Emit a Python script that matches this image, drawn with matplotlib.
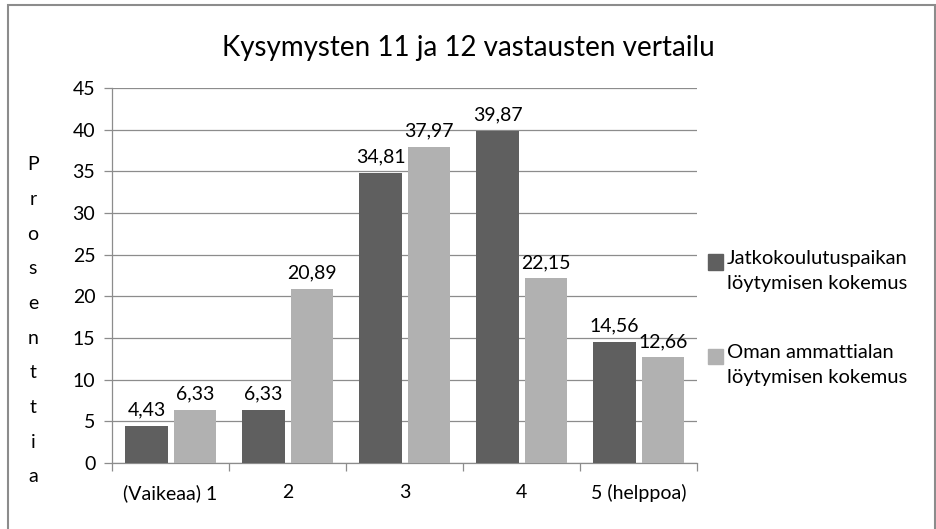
import matplotlib.pyplot as plt
import matplotlib.patches as mpatches
import numpy as np

# Chart values
categories = ['(Vaikeaa) 1', '2', '3', '4', '5 (helppoa)']
jatko = [4.43, 6.33, 34.81, 39.87, 14.56]
oma = [6.33, 20.89, 37.97, 22.15, 12.66]
series_names = ['Jatkokoulutuspaikan\nlöytymisen kokemus',
                'Oman ammattialan\nlöytymisen kokemus']
ylabel = 'Prosenttia'

plt.rcParams['font.family'] = ['Lato', 'DejaVu Sans']

dark = '#5f5f5f'
light = '#b1b1b1'
W, H = 936, 529

fig = plt.figure(figsize=(9.36, 5.29), dpi=100)
ax = fig.add_axes([0.1197, 0.1248, 0.625, 0.7088])

x = np.arange(len(categories))
w = 0.365
b1 = ax.bar(x - 0.205, jatko, w, color=dark, zorder=3)
b2 = ax.bar(x + 0.21, oma, w, color=light, zorder=3)

for bars, vals in [(b1, jatko), (b2, oma)]:
    for r, v in zip(bars, vals):
        ax.text(r.get_x() + r.get_width() / 2, v + 0.9, f'{v:.2f}'.replace('.', ','),
                ha='center', va='bottom', fontsize=14, color='black')

ax.set_xlim(-0.5, len(categories) - 0.5)
ax.set_ylim(0, 45)
ax.set_yticks(range(0, 46, 5))
ax.yaxis.grid(True, color='#8c8c8c', linewidth=0.9, zorder=0)
ax.set_xticks(x)
ax.set_xticklabels(categories, fontsize=14)
ax.set_xticks(np.arange(-0.5, len(categories), 1), minor=True)
ax.tick_params(axis='x', which='major', length=0, pad=15)
ax.tick_params(axis='x', which='minor', length=6, color='#8c8c8c', width=0.9)
ax.tick_params(axis='y', labelsize=14, length=6, color='#8c8c8c', width=0.9, pad=6)

for s in ['top', 'right']:
    ax.spines[s].set_visible(False)
for s in ['left', 'bottom']:
    ax.spines[s].set_color('#8c8c8c')
    ax.spines[s].set_linewidth(0.9)

fig.text(0.5, 0.91, 'Kysymysten 11 ja 12 vastausten vertailu', ha='center',
         va='center', fontsize=20)

# vertical stacked y label
ys = np.linspace(1 - 165 / H, 1 - 477 / H, len(ylabel))
for ch, yy in zip(ylabel, ys):
    fig.text(33 / W, yy, ch, ha='center', va='center', fontsize=14)

# legend drawn by hand: square sits next to the first line of each label
legend_rows = [262, 356]
for name, col, yrow in zip(series_names, [dark, light], legend_rows):
    fig.patches.append(mpatches.Rectangle((708 / W, 1 - (yrow + 7.5) / H), 15 / W, 15 / H,
                                          transform=fig.transFigure, color=col))
    fig.text(727 / W, 1 - (yrow - 12) / H, name, ha='left', va='top',
             fontsize=14.5, linespacing=1.6)

fig.patches.append(mpatches.Rectangle((8 / W, -0.01), (935 - 8) / W, 1 - 5 / H + 0.01,
                                      transform=fig.transFigure, fill=False,
                                      edgecolor='#8c8c8c', linewidth=1.5))

fig.savefig('out.png', dpi=100)
